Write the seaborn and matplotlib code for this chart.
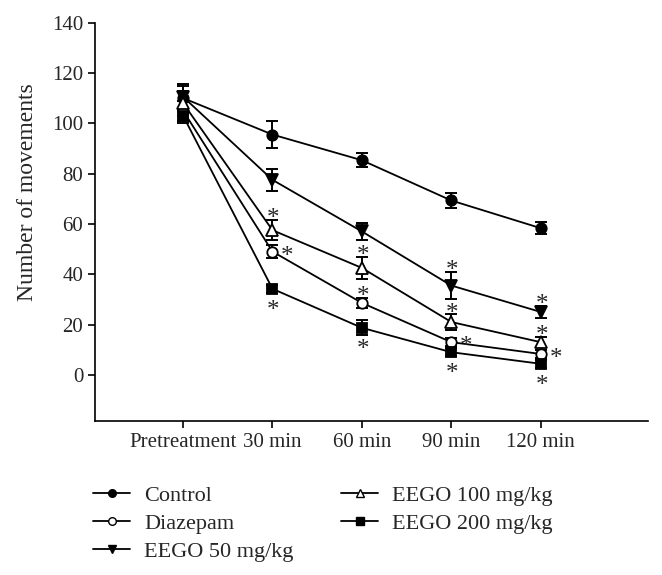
import matplotlib
matplotlib.use("Agg")
import matplotlib.pyplot as plt
import seaborn as sns
import pandas as pd
from matplotlib.lines import Line2D

times = ["Pretreatment", "30 min", "60 min", "90 min", "120 min"]
groups = ["Control", "Diazepam", "EEGO 50 mg/kg", "EEGO 100 mg/kg", "EEGO 200 mg/kg"]

control = [110, 95.5, 85.3, 69.3, 58.3]
control_err = [5, 5.5, 2.8, 2.8, 2.5]
diazepam = [105, 49, 28.6, 13, 8.3]
diazepam_err = [4, 2.5, 2, 1.5, 1.5]
eego50 = [110.5, 77.5, 57, 35.5, 25]
eego50_err = [5, 4.5, 3.5, 5.5, 2.5]
eego100 = [108, 57.5, 42.5, 21, 13]
eego100_err = [5, 4, 4.5, 3, 2]
eego200 = [103, 34.2, 18.7, 9, 4.4]
eego200_err = [3, 1.5, 3, 1.5, 1.5]

# significance marks: (group, time index, where)
stars = [
    ("EEGO 100 mg/kg", 1, "above"), ("Diazepam", 1, "right"), ("EEGO 200 mg/kg", 1, "below"),
    ("EEGO 100 mg/kg", 2, "above"), ("Diazepam", 2, "above"), ("EEGO 200 mg/kg", 2, "below"),
    ("EEGO 50 mg/kg", 3, "above"), ("EEGO 100 mg/kg", 3, "above"), ("Diazepam", 3, "right"),
    ("EEGO 200 mg/kg", 3, "below"),
    ("EEGO 50 mg/kg", 4, "above"), ("EEGO 100 mg/kg", 4, "above"), ("Diazepam", 4, "right"),
    ("EEGO 200 mg/kg", 4, "below"),
]

values = {"Control": control, "Diazepam": diazepam, "EEGO 50 mg/kg": eego50,
          "EEGO 100 mg/kg": eego100, "EEGO 200 mg/kg": eego200}
errors = {"Control": control_err, "Diazepam": diazepam_err, "EEGO 50 mg/kg": eego50_err,
          "EEGO 100 mg/kg": eego100_err, "EEGO 200 mg/kg": eego200_err}
styles = {"Control": ("o", "black", 7.5), "Diazepam": ("o", "white", 7.5),
          "EEGO 50 mg/kg": ("v", "black", 8.5), "EEGO 100 mg/kg": ("^", "white", 8.5),
          "EEGO 200 mg/kg": ("s", "black", 7)}

sns.set_theme(style="ticks")
plt.rcParams["font.family"] = ["Liberation Serif", "DejaVu Serif"]

fig = plt.figure(figsize=(6.62, 5.75), dpi=100)
ax = fig.add_axes([0.1435, 0.268, 0.8353, 0.6927])

xs = list(range(len(times)))
for g in groups:
    m, fc, ms = styles[g]
    df = pd.DataFrame({"x": xs, "y": values[g]})
    ax.errorbar(xs, values[g], yerr=errors[g], fmt="none", ecolor="black",
                elinewidth=1.4, capsize=4.5, capthick=1.4, zorder=2)
    sns.lineplot(data=df, x="x", y="y", ax=ax, color="black", lw=1.3,
                 marker=m, markersize=ms, markerfacecolor=fc,
                 markeredgecolor="black", markeredgewidth=1.3, zorder=3)

# asterisk placement (pixel offsets of the glyph centre)
star_fs = 18
glyph_mid = 0.53 * star_fs * 100 / 72
for g, i, where in stars:
    y = values[g][i]
    e = errors[g][i]
    if where == "above":
        yref, dx, dy = y + e, 1, 8
    elif where == "below":
        yref, dx, dy = y, 1, -15
    else:
        yref, dx, dy = y, 15, 2
    ax.annotate("*", xy=(i, yref), xytext=(dx, dy - glyph_mid),
                textcoords="offset pixels", ha="center", va="baseline",
                fontsize=star_fs)

ax.set_xlim(-0.985, 5.2)
ax.set_ylim(-18.3, 140)
ax.set_xticks(xs)
ax.set_xticklabels(times)
ax.set_yticks(range(0, 141, 20))
ax.set_xlabel("")
ax.set_ylabel("Number of movements", fontsize=17)
ax.yaxis.set_label_coords(-0.103, 0.575)
ax.tick_params(labelsize=15, length=5, width=1.2, color="black")
for s in ["top", "right"]:
    ax.spines[s].set_visible(False)
for s in ["left", "bottom"]:
    ax.spines[s].set_linewidth(1.2)
    ax.spines[s].set_color("black")

handles = []
for g in groups:
    m, fc, ms = styles[g]
    handles.append(Line2D([], [], color="black", lw=1.3, marker=m, markersize=5.5,
                          markerfacecolor=fc, markeredgecolor="black"))
fig.legend(handles, groups, ncol=2, loc="upper left", bbox_to_anchor=(0.1405, 0.1565),
           frameon=False, fontsize=16, handlelength=1.67, columnspacing=2.15,
           labelspacing=0.35, handletextpad=0.63, borderpad=0, borderaxespad=0)

fig.savefig("out.png", dpi=100)
